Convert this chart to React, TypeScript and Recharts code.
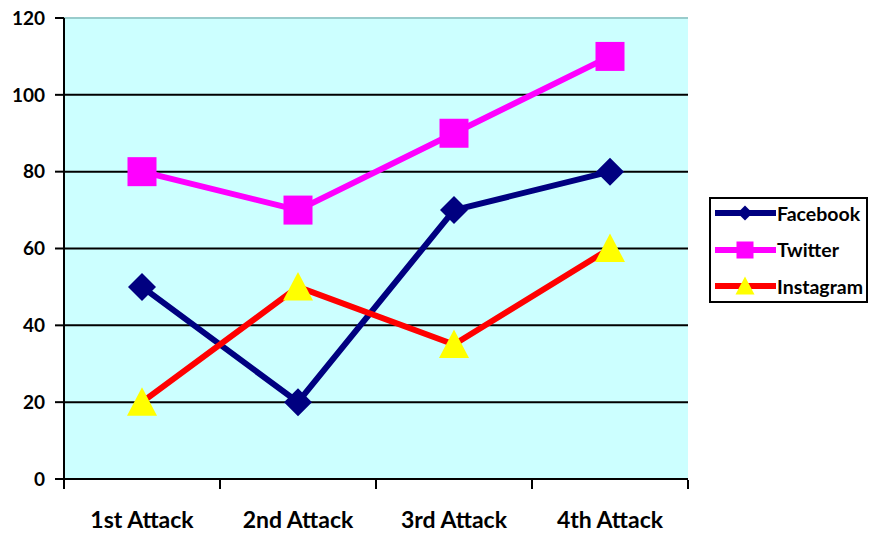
import {
  LineChart,
  Line,
  XAxis,
  YAxis,
  CartesianGrid,
  ReferenceLine,
} from 'recharts';

const categories = ['1st Attack', '2nd Attack', '3rd Attack', '4th Attack'];
const facebook = [50, 20, 70, 80];
const twitter = [80, 70, 90, 110];
const instagram = [20, 50, 35, 60];
const yTicks = [0, 20, 40, 60, 80, 100, 120];
// category boundaries, in category-index units
const edgeTicks = [-0.5, 0.5, 1.5, 2.5, 3.5];

const data = categories.map((name, i) => ({
  name,
  Facebook: facebook[i],
  Twitter: twitter[i],
  Instagram: instagram[i],
}));

const FONT = 'Lato, "Liberation Sans", sans-serif';

const Diamond = (props: any) => {
  const { cx, cy, fill, r = 14 } = props;
  if (cx == null || cy == null) return null;
  return <path d={`M${cx},${cy - r} L${cx + r},${cy} L${cx},${cy + r} L${cx - r},${cy} Z`} fill={fill} />;
};

const Square = (props: any) => {
  const { cx, cy, fill, r = 14.5 } = props;
  if (cx == null || cy == null) return null;
  return <rect x={cx - r} y={cy - r} width={r * 2} height={r * 2} fill={fill} />;
};

const Triangle = (props: any) => {
  const { cx, cy, fill, r = 15 } = props;
  if (cx == null || cy == null) return null;
  return <path d={`M${cx},${cy - r} L${cx + r},${cy + r * 0.9} L${cx - r},${cy + r * 0.9} Z`} fill={fill} />;
};

const series = [
  { key: 'Facebook', color: '#000080', marker: Diamond, markerColor: '#000080', small: 7.5 },
  { key: 'Twitter', color: '#FF00FF', marker: Square, markerColor: '#FF00FF', small: 8.5 },
  { key: 'Instagram', color: '#FF0000', marker: Triangle, markerColor: '#FFFF00', small: 9.5 },
];

const yTickStyle = { fill: '#000', fontFamily: FONT, fontWeight: 700, fontSize: 19 };
const xTickStyle = { fill: '#000', fontFamily: FONT, fontWeight: 700, fontSize: 23 };

const EmptyTick = () => <g />;

const LegendBox = () => (
  <div
    style={{
      position: 'absolute',
      left: 709,
      top: 197,
      width: 159,
      height: 106,
      border: '2px solid #000',
      background: '#fff',
      fontFamily: FONT,
      fontWeight: 700,
      fontSize: 19.5,
      color: '#000',
      boxSizing: 'border-box',
    }}
  >
    <div style={{ marginTop: -4 }}>
      {series.map((s) => {
        const M = s.marker;
        return (
          <div key={s.key} style={{ display: 'flex', alignItems: 'center', height: 36.5 }}>
            <svg width={64} height={24} style={{ marginLeft: 2, flex: 'none' }}>
              <line x1={2} y1={12} x2={63} y2={12} stroke={s.color} strokeWidth={6} />
              <M cx={32} cy={12} fill={s.markerColor} r={s.small} />
            </svg>
            <span>{s.key}</span>
          </div>
        );
      })}
    </div>
  </div>
);

export default function App() {
  return (
    <div style={{ position: 'absolute', left: 0, top: 0, width: 870, height: 533, background: '#fff' }}>
      <LineChart
        width={870}
        height={533}
        data={data}
        margin={{ top: 18, right: 182, bottom: 0, left: 0 }}
      >
        <CartesianGrid horizontal={false} vertical={false} fill="#CCFFFF" />
        {yTicks.slice(1, -1).map((v) => (
          <ReferenceLine key={v} y={v} stroke="#000" strokeWidth={2} />
        ))}
        <ReferenceLine y={120} stroke="#99CCCC" strokeWidth={2} />
        <XAxis
          dataKey="name"
          scale="band"
          height={1}
          tickLine={false}
          axisLine={{ stroke: '#000', strokeWidth: 2 }}
          tickMargin={27}
          fontSize={23}
          tick={xTickStyle}
          interval={0}
        />
        <XAxis
          xAxisId="edge"
          type="number"
          dataKey={(d: any) => categories.indexOf(d.name)}
          domain={[-0.5, 3.5]}
          ticks={edgeTicks}
          interval={0}
          allowDataOverflow
          height={53}
          tick={EmptyTick}
          tickSize={9}
          axisLine={false}
          tickLine={{ stroke: '#000', strokeWidth: 2 }}
        />
        <YAxis
          width={64}
          domain={[0, 120]}
          ticks={yTicks}
          interval={0}
          tickSize={9}
          tickMargin={10}
          fontSize={19}
          axisLine={{ stroke: '#000', strokeWidth: 2 }}
          tickLine={{ stroke: '#000', strokeWidth: 2 }}
          tick={yTickStyle}
        />
        {series.map((s) => {
          const M = s.marker;
          return (
            <Line
              key={s.key}
              dataKey={s.key}
              stroke={s.color}
              strokeWidth={6}
              isAnimationActive={false}
              dot={(p: any) => <M key={`${s.key}-${p.index}`} cx={p.cx} cy={p.cy} fill={s.markerColor} />}
              activeDot={false}
            />
          );
        })}
      </LineChart>
      <LegendBox />
    </div>
  );
}
